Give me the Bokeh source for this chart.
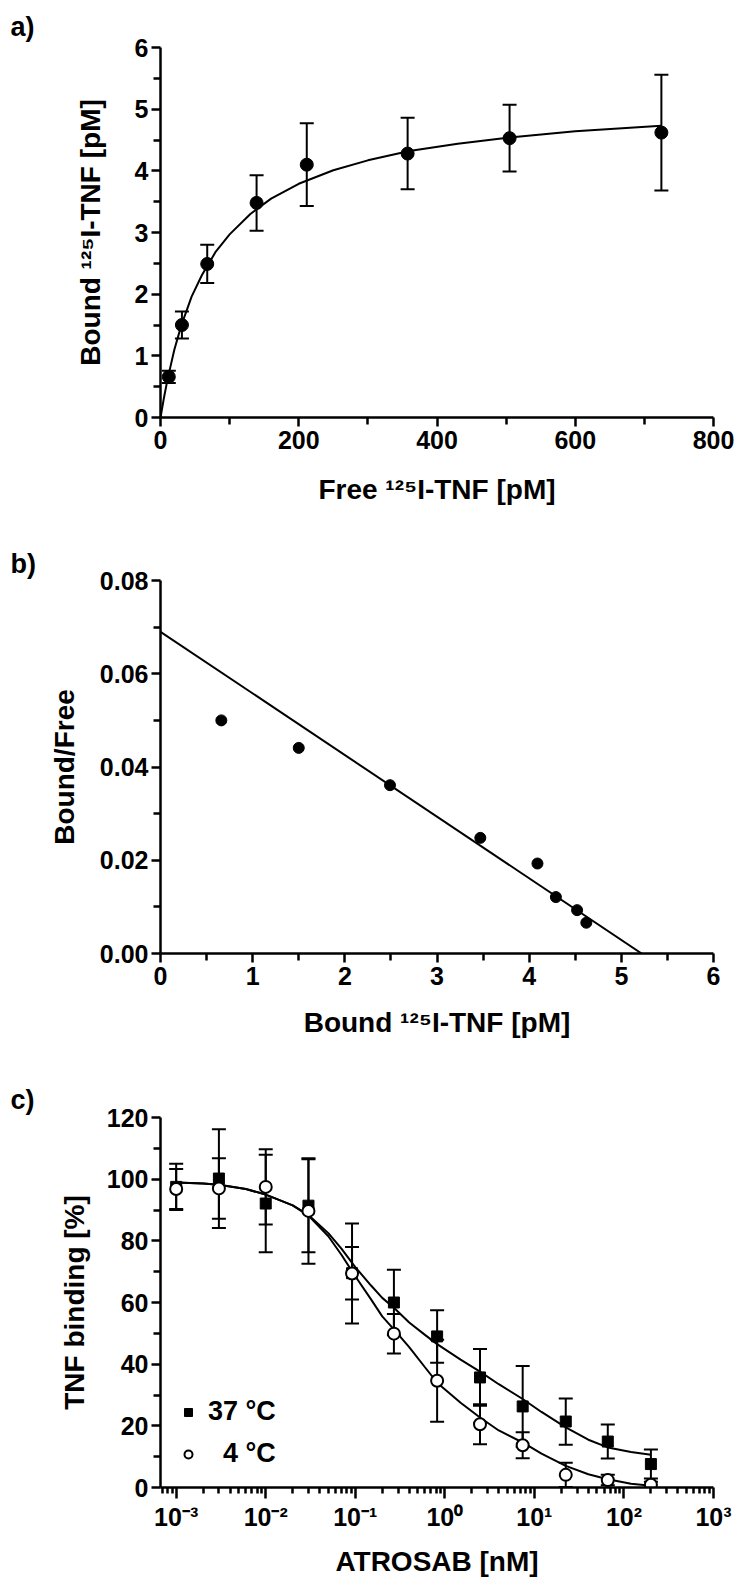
from bokeh.plotting import figure
from bokeh.models import (Range1d, FixedTicker, Whisker, TeeHead, ColumnDataSource,
                          PrintfTickFormatter, CustomJSTickFormatter, Legend, LegendItem)
from bokeh.layouts import column
from bokeh.embed import file_html
from bokeh.resources import INLINE

# ---------------- data ----------------
# a) saturation binding
free_tnf = [12, 31, 67.6, 139, 211.6, 357.5, 505, 724.6]
bound_tnf = [0.66, 1.50, 2.49, 3.48, 4.10, 4.28, 4.53, 4.62]
bound_err = [0.10, 0.22, 0.31, 0.45, 0.67, 0.58, 0.54, 0.94]
# fitted one-site curve
fit_free = [0, 5, 10, 20, 30, 45, 60, 80, 100, 130, 160, 200, 250, 300, 360, 430, 505, 600, 724.6]
fit_bound = [0, 0.32, 0.61, 1.10, 1.49, 1.96, 2.31, 2.69, 2.97, 3.30, 3.55, 3.79, 4.01, 4.17,
             4.32, 4.44, 4.54, 4.64, 4.73]

# b) Scatchard plot
scat_bound = [0.66, 1.50, 2.49, 3.47, 4.09, 4.29, 4.52, 4.62]
scat_ratio = [0.0500, 0.0441, 0.0361, 0.0248, 0.0193, 0.0121, 0.0093, 0.0066]
scat_line_x = [0, 5.22]
scat_line_y = [0.069, 0.0]

# c) competition
atrosab = [0.001, 0.003, 0.01, 0.03, 0.092, 0.27, 0.82, 2.47, 7.4, 22.4, 66, 200]
bind_37 = [97.5, 100.2, 92.1, 91.4, 69.5, 60.0, 49.0, 35.7, 26.3, 21.4, 14.9, 7.6]
err_37 = [7.5, 16.0, 15.8, 15.1, 8.5, 10.6, 8.5, 9.2, 13.1, 7.5, 5.5, 4.7]
bind_4 = [96.8, 97.0, 97.5, 89.7, 69.4, 49.9, 34.6, 20.5, 13.7, 4.1, 2.4, 0.9]
err_4 = [6.5, 9.8, 12.2, 17.1, 16.2, 6.4, 13.3, 6.5, 4.2, 3.9, 1.7, 1.0]
curve_x = [0.001, 0.002, 0.003, 0.006, 0.01, 0.02, 0.03, 0.05, 0.07, 0.1, 0.15, 0.2, 0.27,
           0.4, 0.6, 0.82, 1.5, 2.47, 4, 7.4, 12, 22.4, 40, 66, 120, 200]
curve_37 = [98.9, 98.6, 98.2, 96.8, 95.0, 91.5, 88.4, 82.5, 77.5, 71.5, 65.5, 61.5, 58.3,
            53.5, 49.5, 46.5, 41.5, 37.6, 33.5, 28.7, 24.5, 19.5, 15.5, 13.0, 11.5, 10.6]
curve_4 = [98.9, 98.6, 98.2, 96.8, 95.0, 91.5, 88.2, 81.5, 75.5, 68.5, 61.0, 55.5, 51.3,
           45.5, 39.0, 34.0, 27.5, 22.7, 18.5, 14.6, 11.0, 7.0, 4.3, 2.7, 1.2, 0.6]

FONT = "Liberation Sans"
TICK_FS = "25px"
TITLE_FS = "28px"


def base_fig(frame_h, top, bottom, **kw):
    p = figure(frame_width=553, frame_height=frame_h, output_backend="svg",
               toolbar_location=None, min_border_left=160, min_border_right=22,
               min_border_top=top, min_border_bottom=bottom, **kw)
    p.outline_line_color = None
    p.grid.visible = False
    p.background_fill_color = "white"
    p.border_fill_color = "white"
    for ax in (p.xaxis[0], p.yaxis[0]):
        ax.axis_line_width = 2.5
        ax.major_tick_line_width = 2.5
        ax.minor_tick_line_width = 2.5
        ax.major_tick_in = 0
        ax.minor_tick_in = 0
        ax.major_tick_out = 9
        ax.minor_tick_out = 7
        ax.major_label_text_font = FONT
        ax.major_label_text_font_style = "bold"
        ax.major_label_text_font_size = TICK_FS
        ax.major_label_text_color = "black"
        ax.axis_label_text_font = FONT
        ax.axis_label_text_font_style = "bold"
        ax.axis_label_text_font_size = TITLE_FS
        ax.axis_label_text_color = "black"
    p.xaxis.major_label_standoff = 4
    p.yaxis.major_label_standoff = 3
    p.title.text_font = FONT
    p.title.text_font_size = "27px"
    p.title.text_font_style = "bold"
    p.title.text_color = "black"
    p.title.align = "left"
    p.title.offset = -150
    return p


def whiskers(x, y, e, lw=2, head=14):
    src = ColumnDataSource(dict(x=x, upper=[a + b for a, b in zip(y, e)],
                                lower=[a - b for a, b in zip(y, e)]))
    return Whisker(source=src, base="x", upper="upper", lower="lower", dimension="height",
                   line_width=lw, line_color="black", level="underlay",
                   upper_head=TeeHead(size=head, line_width=lw, line_color="black"),
                   lower_head=TeeHead(size=head, line_width=lw, line_color="black"))


# ---------------- panel a ----------------
pa = base_fig(370, 47, 103, x_range=Range1d(0, 800), y_range=Range1d(0, 6), title="a)")
pa.title.standoff = 11
pa.xaxis.ticker = FixedTicker(ticks=[0, 200, 400, 600, 800], minor_ticks=[100, 300, 500, 700])
pa.yaxis.ticker = FixedTicker(ticks=[0, 1, 2, 3, 4, 5, 6],
                              minor_ticks=[0.5, 1.5, 2.5, 3.5, 4.5, 5.5])
pa.xaxis.axis_label = "Free \u00b9\u00b2\u2075I-TNF [pM]"
pa.yaxis.axis_label = "Bound \u00b9\u00b2\u2075I-TNF [pM]"
pa.xaxis.axis_label_standoff = 22
pa.yaxis.axis_label_standoff = 26
pa.add_layout(whiskers(free_tnf, bound_tnf, bound_err))
pa.line(fit_free, fit_bound, line_color="black", line_width=2)
pa.scatter(free_tnf, bound_tnf, size=13, marker="circle", color="black")

# ---------------- panel b ----------------
pb = base_fig(373, 60, 99, x_range=Range1d(0, 6), y_range=Range1d(0, 0.08), title="b)")
pb.title.standoff = 4
pb.xaxis.ticker = FixedTicker(ticks=[0, 1, 2, 3, 4, 5, 6],
                              minor_ticks=[0.5, 1.5, 2.5, 3.5, 4.5, 5.5])
pb.yaxis.ticker = FixedTicker(ticks=[0, 0.02, 0.04, 0.06, 0.08],
                              minor_ticks=[0.01, 0.03, 0.05, 0.07])
pb.yaxis.formatter = PrintfTickFormatter(format="%.2f")
pb.xaxis.axis_label = "Bound \u00b9\u00b2\u2075I-TNF [pM]"
pb.yaxis.axis_label = "Bound/Free"
pb.xaxis.axis_label_standoff = 19
pb.yaxis.axis_label_standoff = 17
pb.line(scat_line_x, scat_line_y, line_color="black", line_width=2)
pb.scatter(scat_bound, scat_ratio, size=11, marker="circle", color="black")

# ---------------- panel c ----------------
pc = base_fig(370, 65, 91, x_axis_type="log", x_range=Range1d(10 ** -3.175, 1000),
              y_range=Range1d(0, 120), title="c)")
pc.title.standoff = 6
decades = [10.0 ** k for k in range(-3, 4)]
minors = [m * 10.0 ** k for k in range(-4, 3) for m in range(2, 10)]
pc.xaxis.ticker = FixedTicker(ticks=decades, minor_ticks=minors)
pc.xaxis.major_tick_out = 11
pc.xaxis.minor_tick_out = 6
pc.xaxis.formatter = CustomJSTickFormatter(code="""
const sup = {"-": "\u207b", "0": "\u2070", "1": "\u00b9", "2": "\u00b2", "3": "\u00b3"};
const e = Math.round(Math.log10(tick));
return "10" + String(e).split("").map(c => sup[c]).join("");
""")
pc.yaxis.ticker = FixedTicker(ticks=[0, 20, 40, 60, 80, 100, 120],
                              minor_ticks=[10, 30, 50, 70, 90, 110])
pc.xaxis.axis_label = "ATROSAB [nM]"
pc.yaxis.axis_label = "TNF binding [%]"
pc.xaxis.axis_label_standoff = 12
pc.yaxis.axis_label_standoff = 14
pc.add_layout(whiskers(atrosab, bind_37, err_37))
pc.add_layout(whiskers(atrosab, bind_4, err_4))
pc.line(curve_x, curve_37, line_color="black", line_width=2)
pc.line(curve_x, curve_4, line_color="black", line_width=2)
sq = pc.scatter(atrosab, bind_37, size=11, marker="square", color="black")
ci = pc.scatter(atrosab, bind_4, size=12, marker="circle", fill_color="white",
                line_color="black", line_width=2)
legend = Legend(items=[LegendItem(label="37 \u00b0C", renderers=[sq]),
                       LegendItem(label="\u20074 \u00b0C", renderers=[ci])],
                location="bottom_left", border_line_color=None, background_fill_alpha=0,
                label_text_font=FONT, label_text_font_style="bold",
                label_text_font_size="27px", label_text_color="black",
                glyph_width=20, glyph_height=20,
                label_height=30, spacing=11, padding=10, margin=18, label_standoff=10)
pc.add_layout(legend)

layout = column(pa, pb, pc, spacing=0)
open("out.html", "w", encoding="utf-8").write(file_html(layout, INLINE))
